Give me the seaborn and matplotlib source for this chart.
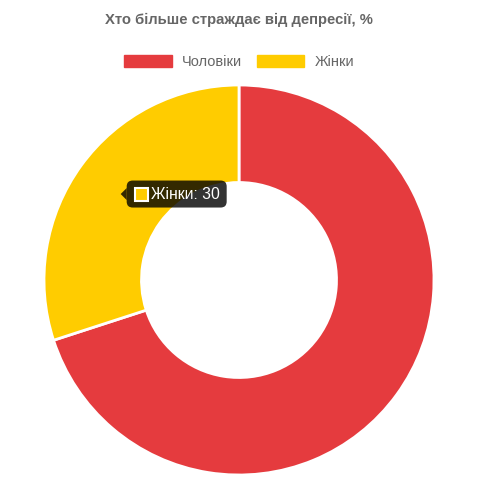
"""Donut chart: who suffers more from depression, % (men vs women)."""

import matplotlib
matplotlib.use("Agg")
import matplotlib.pyplot as plt
import matplotlib.transforms as mtransforms
from matplotlib.patches import FancyBboxPatch, Patch, Polygon, Rectangle
import numpy as np
import seaborn as sns

TITLE = "Хто більше страждає від депресії, %"
LABELS = ["Чоловіки", "Жінки"]
VALUES = [70, 30]
COLORS = ["#e53b3e", "#ffcc00"]
TOOLTIP_IDX = 1

sns.set_style("white")
plt.rcParams["font.family"] = ["Liberation Sans", "DejaVu Sans"]

W = H = 478
DPI = 100
fig = plt.figure(figsize=(W / DPI, H / DPI), dpi=DPI)
fig.patch.set_facecolor("white")

# pie area: centre (239, 280) px, outer radius 195 px
cx, cy, r = 239, H - 280, 195
ax = fig.add_axes([(cx - r) / W, (cy - r) / H, 2 * r / W, 2 * r / H])
cutout = 0.5
wedges, _ = ax.pie(
    VALUES,
    colors=COLORS,
    startangle=90,
    counterclock=False,
    radius=1.0,
    wedgeprops=dict(width=1 - cutout, edgecolor="white", linewidth=2),
)
ax.set_xlim(-1, 1)
ax.set_ylim(-1, 1)
ax.set_aspect("equal")
ax.axis("off")

fig.text(0.5, 1 - 20 / H, TITLE, ha="center", va="center",
         fontsize=10.7, fontweight="bold", color="#666666")

handles = [Patch(facecolor=c, edgecolor=c) for c in COLORS]
fig.legend(handles, LABELS, loc="center", bbox_to_anchor=(0.5, 1 - 62 / H),
           ncol=2, frameon=False, fontsize=10.5, labelcolor="#666666",
           handlelength=3.26, handleheight=0.83, handletextpad=0.7,
           columnspacing=1.0)

# tooltip anchored at the centroid of the highlighted arc (offsets in pixels)
w = wedges[TOOLTIP_IDX]
mid = np.deg2rad((w.theta1 + w.theta2) / 2)
rmid = (1 + cutout) / 2
tx, ty = rmid * np.cos(mid), rmid * np.sin(mid)
pix = mtransforms.ScaledTranslation(tx, ty, ax.transData)

tip_bg = (0, 0, 0, 0.8)
ax.add_patch(Polygon([(0, 0), (6, 6), (6, -6)], closed=True, facecolor=tip_bg,
                     edgecolor="none", transform=pix, clip_on=False, zorder=5))
ax.add_patch(FancyBboxPatch((6, -13.5), 100, 27,
                            boxstyle="round,pad=0,rounding_size=6",
                            facecolor=tip_bg, edgecolor="none",
                            transform=pix, clip_on=False, zorder=5))
ax.add_patch(Rectangle((14, -7), 13, 13, facecolor=COLORS[TOOLTIP_IDX],
                       edgecolor="white", linewidth=1.5,
                       transform=pix, clip_on=False, zorder=6))
ax.text(30, 0, f"{LABELS[TOOLTIP_IDX]}: {VALUES[TOOLTIP_IDX]}", color="white",
        fontsize=11.3, ha="left", va="center", transform=pix, zorder=7)

fig.savefig("out.png", dpi=DPI, facecolor="white")
